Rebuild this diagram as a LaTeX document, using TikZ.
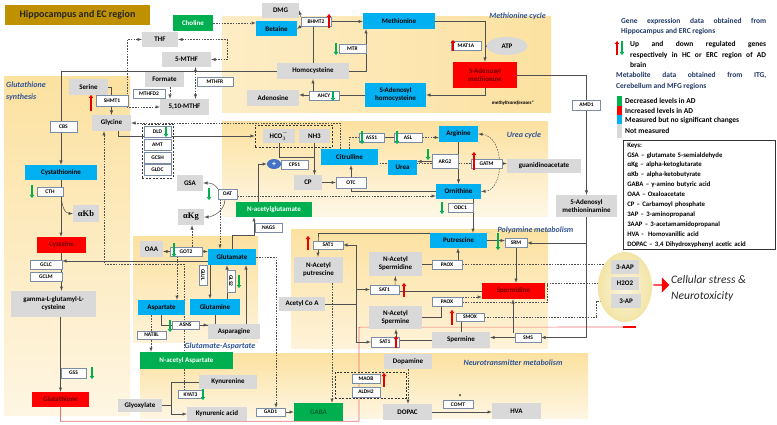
\documentclass[tikz,border=0pt]{standalone}
\usepackage{fontspec}
\setmainfont{Carlito}
\newfontfamily\greekserif{Liberation Serif}
\usetikzlibrary{arrows.meta,backgrounds,shapes.geometric,shapes.arrows}

\definecolor{regcol}{RGB}{252,225,160}
\definecolor{metgrey}{RGB}{217,217,217}
\definecolor{metblue}{RGB}{0,176,240}
\definecolor{metgreen}{RGB}{0,176,80}
\definecolor{metred}{RGB}{255,0,0}
\definecolor{redtext}{RGB}{105,0,0}
\definecolor{labblue}{RGB}{46,84,150}
\definecolor{headblue}{RGB}{32,56,100}
\definecolor{enzborder}{RGB}{125,140,165}
\definecolor{linegrey}{RGB}{80,80,80}
\definecolor{titlegold}{RGB}{191,144,0}
\definecolor{beige}{RGB}{243,228,165}
\definecolor{upred}{RGB}{230,0,0}
\definecolor{downgreen}{RGB}{0,176,80}
\definecolor{inhibred}{RGB}{235,110,110}
\definecolor{plusblue}{RGB}{68,114,196}

\begin{document}
\begin{tikzpicture}[x=1pt,y=-1pt,>=latex]
    \tikzstyle{met} = [rectangle,inner sep=0pt,align=center,font=\fontsize{7}{8}\selectfont\bfseries]
    \tikzstyle{greymet} = [met,fill=metgrey]
    \tikzstyle{bluemet} = [met,fill=metblue]
    \tikzstyle{redmet} = [met,fill=metred,text=redtext]
    \tikzstyle{greenmet} = [met,fill=metgreen,text=white]
    \tikzstyle{enzyme} = [rectangle,draw=enzborder,line width=0.4pt,fill=white,inner sep=0pt,font=\fontsize{5.5}{6}\selectfont\bfseries]
    \tikzstyle{region} = [inner sep=0pt,text=labblue,font=\fontsize{8}{9}\selectfont\bfseries\itshape]
    \tikzstyle{conn} = [draw=linegrey,line width=0.5pt]
    \tikzstyle{dconn} = [conn,dash pattern=on 1.6pt off 1.2pt]
    \tikzstyle{dbox} = [rectangle,draw=black!80,line width=0.6pt,dash pattern=on 2pt off 1.5pt,inner sep=0pt]
    \tikzstyle{upreg} = [draw=upred,line width=1.5pt,-{Triangle[length=3pt,width=4.5pt]}]
    \tikzstyle{downreg} = [draw=downgreen,line width=1.5pt,-{Triangle[length=3pt,width=4.5pt]}]
    \tikzstyle{legend} = [inner sep=0pt,font=\fontsize{7.5}{10.5}\selectfont\bfseries]

    \useasboundingbox (0,0) rectangle (777,425);

    % title, methionine cycle
    \node (title)[met,fill=titlegold,minimum width=145pt,minimum height=20pt,font=\fontsize{10}{11}\selectfont\bfseries,text=black!85] at (77.5,15) {Hippocampus and EC region};
    \node (choline)[greenmet,minimum width=40pt,minimum height=16pt] at (193,23) {Choline};
    \node (dmg)[greymet,minimum width=37pt,minimum height=15pt] at (280.5,10.5) {DMG};
    \node (betaine)[bluemet,minimum width=41pt,minimum height=15pt] at (276.5,29) {Betaine};
    \node (thf)[greymet,minimum width=36pt,minimum height=15pt] at (160,39.5) {THF};
    \node (mthf5)[greymet,minimum width=49pt,minimum height=15pt] at (186.5,59.5) {5-MTHF};
    \node (formate)[greymet,minimum width=39pt,minimum height=15pt] at (164.5,79.5) {Formate};
    \node (mthf510)[greymet,minimum width=49pt,minimum height=16pt] at (184.5,107) {5,10-MTHF};
    \node (methionine)[bluemet,minimum width=72pt,minimum height=16pt] at (399,21) {Methionine};
    \node (homocysteine)[greymet,minimum width=72pt,minimum height=16pt] at (313,71) {Homocysteine};
    \node (adenosine)[greymet,minimum width=52pt,minimum height=16pt] at (273,98) {Adenosine};
    \node (sah)[bluemet,minimum width=61pt,minimum height=24pt] at (395.5,95) {S-Adenosyl\\homocysteine};
    \node (sam)[redmet,minimum width=64pt,minimum height=26pt] at (485,75) {S-Adenosyl\\methionine};
    \node (atp)[met,ellipse,fill=metgrey,minimum width=41pt,minimum height=18pt] at (507,46) {ATP};
    \node (samine)[greymet,minimum width=61pt,minimum height=22pt] at (586.5,206) {5-Adenosyl\\methioninamine};

    % glutathione synthesis
    \node (serine)[greymet,minimum width=39pt,minimum height=16pt] at (88.5,87) {Serine};
    \node (glycine)[greymet,minimum width=39pt,minimum height=16pt] at (111.5,123) {Glycine};
    \node (cystathionine)[bluemet,minimum width=72pt,minimum height=15pt] at (61,172.5) {Cystathionine};
    \node (akb)[greymet,minimum width=26pt,minimum height=17pt,font=\greekserif\bfseries\fontsize{8.5}{9}\selectfont] at (86,213.5) {αKb};
    \node (cysteine)[redmet,minimum width=49pt,minimum height=16pt] at (61.5,245) {Cysteine};
    \node (gglc)[greymet,minimum width=85pt,minimum height=26pt] at (53.5,304) {gamma-L-glutamyl-L-\\cysteine};
    \node (glutathione)[redmet,minimum width=57pt,minimum height=15pt] at (60.5,399.5) {Glutathione};

    % urea cycle
    \node (nbox)[dbox,minimum width=77pt,minimum height=22pt] at (293.5,136) {};
    \node (hco3)[greymet,minimum width=32pt,minimum height=14pt] at (279,136) {HCO$^{-}_{3}$};
    \node (nh3)[greymet,minimum width=31pt,minimum height=14pt] at (314.5,136) {NH3};
    \node (plus)[met,ellipse,fill=plusblue,text=white,minimum width=14pt,minimum height=10pt,font=\fontsize{8}{8}\selectfont\bfseries] at (274,164) {+};
    \node (cp)[greymet,minimum width=28pt,minimum height=15pt] at (308,182.5) {CP};
    \node (citrulline)[bluemet,minimum width=57pt,minimum height=16pt] at (349.5,157) {Citrulline};
    \node (urea)[bluemet,minimum width=29pt,minimum height=15pt] at (402.5,167.5) {Urea};
    \node (arginine)[bluemet,minimum width=39pt,minimum height=16pt] at (458.5,134) {Arginine};
    \node (ornithine)[bluemet,minimum width=45pt,minimum height=15pt] at (458.5,191.5) {Ornithine};
    \node (guanidino)[greymet,minimum width=74pt,minimum height=14pt] at (544,166) {guanidinoacetate};
    \node (gsa)[greymet,minimum width=26pt,minimum height=16pt] at (190,183) {GSA};
    \node (akg)[greymet,minimum width=26pt,minimum height=16pt,font=\greekserif\bfseries\fontsize{8.5}{9}\selectfont] at (191,217) {αKg};
    \node (nacglu)[greenmet,minimum width=76pt,minimum height=15pt] at (274,209.5) {N-acetylglutamate};

    % glutamate-aspartate
    \node (oaa)[greymet,minimum width=23pt,minimum height=16pt] at (151.5,249) {OAA};
    \node (glutamate)[bluemet,minimum width=48pt,minimum height=16pt] at (232,257) {Glutamate};
    \node (aspartate)[bluemet,minimum width=47pt,minimum height=15pt] at (161.5,307.5) {Aspartate};
    \node (glutamine)[bluemet,minimum width=50pt,minimum height=16pt] at (215,307) {Glutamine};
    \node (asparagine)[greymet,minimum width=52pt,minimum height=15pt] at (234,331.5) {Asparagine};
    \node (naa)[greenmet,minimum width=93pt,minimum height=17pt] at (186.5,360.5) {N-acetyl Aspartate};

    % neurotransmitter metabolism
    \node (kynurenine)[greymet,minimum width=58pt,minimum height=14pt] at (228,382) {Kynurenine};
    \node (glyoxylate)[greymet,minimum width=44pt,minimum height=13pt] at (140,405.5) {Glyoxylate};
    \node (kynurenic)[greymet,minimum width=60pt,minimum height=14pt] at (217,414) {Kynurenic acid};
    \node (gaba)[greenmet,minimum width=49pt,minimum height=18pt,text=black!45!metgreen] at (318.5,412) {GABA};
    \node (dopamine)[greymet,minimum width=48pt,minimum height=15pt] at (408,361.5) {Dopamine};
    \node (dopac)[greymet,minimum width=49pt,minimum height=16pt] at (407.5,412) {DOPAC};
    \node (hva)[greymet,minimum width=49pt,minimum height=16pt] at (516.5,411) {HVA};

    % polyamine metabolism
    \node (acetylcoa)[greymet,minimum width=46pt,minimum height=14pt] at (302,304) {Acetyl Co A};
    \node (putrescine)[bluemet,minimum width=57pt,minimum height=15pt] at (458.5,240.5) {Putrescine};
    \node (nacput)[greymet,minimum width=49pt,minimum height=26pt] at (318.5,270) {N-Acetyl\\putrescine};
    \node (nacspd)[greymet,minimum width=53pt,minimum height=24pt] at (395.5,264) {N-Acetyl\\Spermidine};
    \node (spermidine)[redmet,minimum width=63pt,minimum height=16pt] at (513.5,291) {Spermidine};
    \node (nacspm)[greymet,minimum width=53pt,minimum height=23pt] at (395.5,317.5) {N-Acetyl\\Spermine};
    \node (spermine)[greymet,minimum width=58pt,minimum height=16pt] at (461,340) {Spermine};

    % toxic products
    \node (toxell)[ellipse,inner color=beige!35,outer color=beige,minimum width=54pt,minimum height=70pt] at (625,287) {};
    \node (aap3)[greymet,minimum width=28pt,minimum height=14pt] at (625,267) {3-AAP};
    \node (h2o2)[greymet,minimum width=28pt,minimum height=13pt] at (625,283.5) {H2O2};
    \node (ap3)[greymet,minimum width=30pt,minimum height=14pt] at (626,301) {3-AP};
    \node (bigarrow)[single arrow,fill=metred,inner sep=0pt,minimum height=16pt,minimum width=15pt,single arrow head extend=2.5pt] at (661,285) {};
    \node (stress)[anchor=west,align=left,inner sep=0pt,text=black!85,font=\fontsize{11.5}{16}\selectfont\itshape] at (671,288) {Cellular stress \&\\Neurotoxicity};

    % enzymes
    \node (shmt1)[enzyme,minimum width=32pt,minimum height=11pt] at (112,100.5) {SHMT1};
    \node (mthfd2)[enzyme,minimum width=32pt,minimum height=9pt] at (149,94) {MTHFD2};
    \node (mthfr)[enzyme,minimum width=36pt,minimum height=9pt] at (215,81.5) {MTHFR};
    \node (cbs)[enzyme,minimum width=27pt,minimum height=11pt] at (63.5,126.5) {CBS};
    \node (bhmt2)[enzyme,minimum width=30pt,minimum height=9pt] at (316,21.5) {BHMT2};
    \node (mtr)[enzyme,minimum width=27pt,minimum height=9pt] at (352.5,48.5) {MTR};
    \node (ahcy)[enzyme,minimum width=30pt,minimum height=9pt] at (324,95.5) {AHCY};
    \node (mat1a)[enzyme,minimum width=30pt,minimum height=9pt] at (466,45.5) {MAT1A};
    \node (amd1)[enzyme,minimum width=28pt,minimum height=10pt] at (586.5,105) {AMD1};
    \node (gcsbox)[dbox,minimum width=31pt,minimum height=54pt] at (157.5,151) {};
    \node (dld)[enzyme,minimum width=27pt,minimum height=11pt] at (157.5,132) {DLD};
    \node (amt)[enzyme,minimum width=27pt,minimum height=11pt] at (157.5,145) {AMT};
    \node (gcsh)[enzyme,minimum width=27pt,minimum height=11pt] at (157.5,157.5) {GCSH};
    \node (gldc)[enzyme,minimum width=27pt,minimum height=11pt] at (157.5,169.5) {GLDC};
    \node (cps1)[enzyme,minimum width=27pt,minimum height=9pt] at (294.5,164.5) {CPS1};
    \node (otc)[enzyme,minimum width=30pt,minimum height=11pt] at (351,182.5) {OTC};
    \node (ass1)[enzyme,minimum width=25pt,minimum height=9pt] at (371.5,137.5) {ASS1};
    \node (asl)[enzyme,minimum width=28pt,minimum height=9pt] at (408,137.5) {ASL};
    \node (arg2)[enzyme,minimum width=26pt,minimum height=14pt] at (445,161.5) {ARG2};
    \node (gatm)[enzyme,minimum width=31pt,minimum height=9pt] at (486.5,163.5) {GATM};
    \node (odc1)[enzyme,minimum width=25pt,minimum height=9pt] at (460.5,208) {ODC1};
    \node (oat)[enzyme,minimum width=19pt,minimum height=10pt] at (227.5,194) {OAT};
    \node (got2)[enzyme,minimum width=32pt,minimum height=9pt] at (186,251.5) {GOT2};
    \node (nags)[enzyme,minimum width=27pt,minimum height=9pt] at (268.5,227.5) {NAGS};
    \node (cth)[enzyme,minimum width=26pt,minimum height=9pt] at (50,191.5) {CTH};
    \node (gclc)[enzyme,minimum width=32pt,minimum height=9pt] at (46,265) {GCLC};
    \node (gclm)[enzyme,minimum width=32pt,minimum height=9pt] at (46,277) {GCLM};
    \node (gss)[enzyme,minimum width=25pt,minimum height=10pt] at (73.5,373) {GSS};
    \node (glul)[enzyme,rotate=-90,minimum width=20pt,minimum height=8pt] at (203,275) {GLUL};
    \node (gls2)[enzyme,rotate=-90,minimum width=22pt,minimum height=8pt] at (231,281) {GLS2};
    \node (asns)[enzyme,minimum width=27pt,minimum height=8pt] at (185.5,325) {ASNS};
    \node (nat8l)[enzyme,minimum width=29pt,minimum height=8pt] at (151.5,335) {NAT8L};
    \node (kyat3)[enzyme,minimum width=25pt,minimum height=8pt] at (190.5,394.5) {KYAT3};
    \node (gad1)[enzyme,minimum width=29pt,minimum height=8pt] at (270.5,412) {GAD1};
    \node (maobox)[dbox,minimum width=71pt,minimum height=26pt] at (370.5,385) {};
    \node (maob)[enzyme,minimum width=28pt,minimum height=9pt] at (366,378.5) {MAOB};
    \node (aldh2)[enzyme,minimum width=28pt,minimum height=10pt] at (366,392) {ALDH2};
    \node (comt)[enzyme,minimum width=30pt,minimum height=8pt] at (458,404.5) {COMT};
    \node (comtstar)[inner sep=0pt,font=\fontsize{7}{7}\selectfont\bfseries] at (460,397) {*};
    \node (sat1a)[enzyme,minimum width=30pt,minimum height=8pt] at (328,245) {SAT1};
    \node (sat1b)[enzyme,minimum width=29pt,minimum height=9pt] at (384.5,289.5) {SAT1};
    \node (sat1c)[enzyme,minimum width=28pt,minimum height=10pt] at (385,342) {SAT1};
    \node (paox1)[enzyme,minimum width=30pt,minimum height=9pt] at (447,264.5) {PAOX};
    \node (paox2)[enzyme,minimum width=30pt,minimum height=9pt] at (447,301.5) {PAOX};
    \node (smox)[enzyme,minimum width=28pt,minimum height=8pt] at (470,317) {SMOX};
    \node (srm)[enzyme,minimum width=22pt,minimum height=9pt] at (516,243) {SRM};
    \node (sms)[enzyme,minimum width=26pt,minimum height=9pt] at (528,337.5) {SMS};

    % region labels
    \node (metlab)[region] at (517.5,16) {Methionine cycle};
    \node (urealab)[region] at (524,135) {Urea cycle};
    \node (polylab)[region] at (535.5,230) {Polyamine metabolism};
    \node (glulab)[region] at (220,346) {Glutamate-Aspartate};
    \node (neurolab)[region] at (513,363) {Neurotransmitter metabolism};
    \node (gshlab)[region,anchor=west,align=left,font=\fontsize{8}{12}\selectfont\bfseries\itshape] at (6,91) {Glutathione\\synthesis};
    \node (mtlab)[inner sep=0pt,font=\fontsize{5}{6}\selectfont\bfseries\itshape] at (513,103) {methyltransferases*};

    % legend
    \node (head1)[legend,anchor=north west,text width=145pt,align=justify,text=headblue] at (621,18) {Gene expression data obtained from\linebreak Hippocampus and ERC regions};
    \node (updown)[legend,anchor=north west,text width=136pt,align=justify] at (630,41.5) {Up and down regulated genes\linebreak respectively in HC or ERC region of AD\linebreak brain};
    \node (head2)[legend,anchor=north west,text width=150pt,align=justify,text=headblue] at (616,72.5) {Metabolite data obtained from ITG,\linebreak Cerebellum and MFG regions};
    \node (lgdec)[legend,anchor=west] at (625,100.5) {Decreased levels in AD};
    \node (lginc)[legend,anchor=west] at (625,110.5) {Increased levels in AD};
    \node (lgmeas)[legend,anchor=west] at (625,120.5) {Measured but no significant changes};
    \node (lgnot)[legend,anchor=west] at (625,130.5) {Not measured};
    \fill[metgreen] (617,96) rectangle (622,106);
    \fill[metred] (617,106) rectangle (622,115);
    \fill[metblue] (617,115) rectangle (622,124);
    \fill[metgrey] (617,124) rectangle (622,138);
    \node (keys)[draw=black!80,line width=0.5pt,anchor=north west,text width=144pt,inner xsep=4pt,inner ysep=2.5pt,align=left,font=\fontsize{6.8}{9.9}\selectfont\bfseries] at (623,140) {Keys:\\
        GSA – glutamate 5-semialdehyde\\
        αKg – alpha-ketoglutarate\\
        αKb – alpha-ketobutyrate\\
        GABA – γ-amino butyric acid\\
        OAA – Oxaloacetate\\
        CP – Carbamoyl phosphate\\
        3AP – 3-aminopropanal\\
        3AAP – 3-acetamamidopropanal\\
        HVA -\ \ Homovanillic acid\\
        DOPAC – 3,4 Dihydroxyphenyl acetic acid};

    % up and down regulation
    \draw[upreg] (617,55) -- (617,41);
    \draw[downreg] (622,41) -- (622,55);
    \draw[upreg] (91,111) -- (91,95);
    \draw[upreg] (329,28) -- (329,14);
    \draw[downreg] (336,43) -- (336,55);
    \draw[downreg] (333,91) -- (333,101);
    \draw[upreg] (453,51) -- (453,40);
    \draw[downreg] (166,127) -- (166,137);
    \draw[downreg] (32,185) -- (32,198);
    \draw[downreg] (92,367) -- (92,379);
    \draw[downreg] (362,131) -- (362,144);
    \draw[downreg] (397,131) -- (397,144);
    \draw[downreg] (428,149) -- (428,160);
    \draw[upreg] (474,170) -- (474,152);
    \draw[downreg] (442,202) -- (442,214);
    \draw[downreg] (209,188) -- (209,200);
    \draw[downreg] (174,243) -- (174,257);
    \draw[downreg] (239,275) -- (239,288);
    \draw[downreg] (170,320) -- (170,332);
    \draw[downreg] (203,389) -- (203,400);
    \draw[upreg] (308,250) -- (308,236);
    \draw[upreg] (404,297) -- (404,283);
    \draw[upreg] (396,348) -- (396,336);
    \draw[upreg] (452,325) -- (452,310);
    \draw[downreg] (498,233) -- (498,250);
    \draw[upreg] (384,387) -- (384,373);

    \begin{scope}[on background layer]
        % regions
        \fill[top color=regcol,bottom color=regcol!30] (4,77) rectangle (130,415);
        \fill[left color=regcol!60,right color=regcol] (222,17) rectangle (551,113);
        \fill[top color=regcol,bottom color=regcol!25] (222,122) rectangle (548,217);
        \fill[top color=regcol,bottom color=regcol!40] (133,236) rectangle (258,342);
        \fill[top color=regcol,bottom color=regcol!40] (291,229) rectangle (548,348);
        \fill[top color=regcol,bottom color=regcol!30] (140,353) rectangle (588,418);

        % methionine cycle
        \draw[dconn,->] (choline.east) -- (choline.east -| betaine.west);
        \draw[dconn,->] (bhmt2.north west) -- (dmg.east);
        \draw[dconn,->] (bhmt2.south west) -- (betaine.east);
        \draw[conn] (homocysteine.north) -- (homocysteine.north |- bhmt2.south);
        \draw[conn,->] (bhmt2.east) -- (bhmt2.east -| methionine.west);
        \draw[conn,->] (homocysteine.east) -| ([xshift=-33pt]methionine.south);
        \draw[conn,->] (methionine.east) -| (sam.north);
        \draw[conn,->] (atp.west) -- (atp.west -| sam.north);
        \draw[conn,->] (sam.south) |- (sah.east);
        \draw[conn,->] (sah.west) -- (sah.west -| adenosine.east);
        \draw[conn,->] (sah.west -| homocysteine.south) -- (homocysteine.south);
        \draw[conn,->] (sam.east) -| (samine.north);
        \draw[dconn,<->] (thf.east) -- ++(49,0) |- (mthf5.east);
        \draw[dconn,<->] (thf.west) -- ++(-15,0) |- (mthf510.west);
        \draw[dconn,<->] ([xshift=9pt]mthf5.south) -- ([xshift=11pt]mthf510.north);
        \draw[dconn,->] ([xshift=5.5pt]formate.south) -- ([xshift=-14.5pt]mthf510.north);

        % glutathione synthesis
        \draw[conn,->] (homocysteine.west) -| (cystathionine.north);
        \draw[conn,->] (serine.east) -| (glycine.north);
        \draw[conn,->] (cystathionine.south) -- (cystathionine.south |- cysteine.north);
        \draw[conn,->] (cystathionine.south |- cth.east) .. controls +(0,14) and +(-8,0) .. (akb.west);
        \draw[conn,->] (cysteine.south) -- (cysteine.south |- gglc.north);
        \draw[conn,->] (glutathione.north |- gglc.south) -- (glutathione.north);
        \coordinate (redbar) at (623,327);
        \draw[draw=inhibred,line width=0.6pt] (glutathione.south) -- ++(0,14) -| ++(298.5,-94) -- (redbar);
        \draw[draw=metred,line width=2pt] (redbar) -- ++(13,0);

        % glycine and urea cycle
        \draw[dconn,->] (gatm.west) -- ++(-131,0) |- (glycine.east);
        \draw[conn,->] ([xshift=6.5pt]glycine.south) |- (nbox.west);
        \draw[conn] (hco3.south) -- ++(0,14) -| (nh3.south);
        \draw[conn,->] (nh3.south) -- (nh3.south |- cp.north);
        \draw[conn,->] ([xshift=-16pt]nacglu.north) |- (plus.west);
        \draw[conn,->] (cp.east) -- (otc.west);
        \draw[conn,->] (otc.north) -- (otc.north |- citrulline.south);
        \draw[conn] (otc.south) |- (ornithine.west);
        \draw[dconn] (citrulline.north) |- (ass1.west);
        \draw[conn] (ass1.east) -- (asl.west);
        \draw[dconn,->] (asl.east) -- (asl.east -| arginine.west);
        \draw[conn,->] (arginine.south) -- (ornithine.north);
        \draw[conn,->] (arg2.west) -- (arg2.west -| urea.east);
        \draw[dconn,<->] (arginine.east) .. controls (505,136) and (505,190) .. (ornithine.east);
        \draw[conn,->] (gatm.east) -- (gatm.east -| guanidino.west);
        \draw[conn,->] ([xshift=14.5pt]ornithine.south) -- ([xshift=14.5pt]putrescine.north);
        \draw[conn,->] (oat.north west) .. controls +(-4,-6) and +(6,0) .. (gsa.east);
        \draw[conn,->] ([xshift=-2.5pt]oat.south) .. controls +(0,12) and +(8,0) .. (akg.east);
        \draw[dconn,->] ([xshift=-7.5pt]oat.south) -- ([xshift=-12pt]glutamate.north);
        \draw[dconn,->] ([yshift=-2pt]oat.east) -- ([yshift=-2pt]oat.east -| ornithine.west);

        % glutamate-aspartate
        \draw[dconn,->] ([xshift=6pt]got2.north) -- ([xshift=1pt]akg.south);
        \draw[conn,->] (got2.west) -- (got2.west -| oaa.east);
        \draw[conn,->] (got2.east) -- (got2.east -| glutamate.west);
        \draw[conn,->] ([yshift=-4pt]glutamate.west) -- ([yshift=-4pt]glutamate.west -| gclc.east);
        \draw[dconn,->] ([xshift=-6.5pt]kyat3.north) -- ++(0,-126.5) -| ([xshift=-7.5pt]glycine.south);
        \draw[dconn,->] ([xshift=-9pt]got2.south) -- ([xshift=15.5pt]aspartate.north);
        \draw[dconn,->] (glutamate.east) -| ([xshift=5.5pt]gad1.north);
        \draw[conn,->] (gad1.east) -- (gad1.east -| gaba.west);
        \draw[conn,->] (glutamate.north) -- ++(0,-14) -| ([xshift=-20pt]nacglu.south);
        \draw[conn,->] ([xshift=-22pt]glutamate.south) -- ([xshift=-5pt]glutamine.north);
        \draw[conn,->] ([xshift=12pt]glutamine.north) -- ([xshift=-5pt]glutamate.south);
        \draw[conn,->] ([xshift=12pt]asparagine.north) -- ([xshift=14pt]glutamate.south);
        \draw[conn] (aspartate.south) |- (asns.west);
        \draw[conn] (glutamine.south) |- (asns.east);
        \draw[conn,->] (asns.east) -- (asns.east -| asparagine.west);
        \draw[dconn,->] ([xshift=-10.5pt]aspartate.south) -- ([xshift=-35.5pt]naa.north);

        % neurotransmitter metabolism
        \coordinate (kjoin) at (171,405.5);
        \draw[conn,->] (kynurenine.west) -- ++(-28,0) |- (kynurenic.west);
        \draw[conn] (glyoxylate.east) -- (kjoin);
        \draw[dconn,->] ([xshift=13.5pt]nacput.south) -- ([xshift=13.5pt]gaba.north);
        \draw[dconn,->] (dopamine.south) -- (dopamine.south |- dopac.north);
        \draw[conn,->] (dopac.east) -- (dopac.east -| hva.west);

        % polyamine metabolism
        \draw[conn,->] (putrescine.north west) -| ([xshift=-10pt]sat1a.north) -- ([xshift=-0.5pt]nacput.north);
        \coordinate (acbus) at (356,304);
        \draw[conn] (acetylcoa.east) -- (acbus);
        \draw[conn,->] (acbus) |- (sat1a.east);
        \draw[conn,->] (acbus) |- (sat1b.west);
        \draw[conn,->] (acbus) |- (sat1c.west);
        \draw[conn,->] ([xshift=10.5pt]sat1b.north) -- (nacspd.south);
        \draw[conn] (spermidine.west) -- (spermidine.west -| sat1b.east);
        \draw[conn] (nacspd.east) -- (nacspd.east -| paox1.west);
        \draw[conn,->] ([xshift=11pt]paox1.north) -- ([xshift=-0.5pt]putrescine.south);
        \draw[conn,->] (putrescine.east) -- (putrescine.east -| srm.west);
        \draw[conn,->] (samine.south) |- (srm.east);
        \draw[conn,->] (samine.south) |- (sms.east);
        \draw[conn,->] (srm.south) -- (srm.south |- spermidine.north);
        \draw[conn,->] ([xshift=-15pt]sms.north) -- ([xshift=-0.5pt]spermidine.south);
        \draw[conn,->] (sms.west) -- (sms.west -| spermine.east);
        \draw[conn] (spermine.west) -- (spermine.west -| sat1c.east);
        \draw[conn,->] ([xshift=11pt]sat1c.north) -- ([xshift=0.5pt]nacspm.south);
        \draw[conn] (nacspm.east) -| ([xshift=-6pt]paox2.south);
        \draw[dconn,->] ([yshift=4.5pt]paox2.east) -- ([yshift=4.5pt]paox2.east -| spermidine.west);
        \draw[conn] (spermine.north) -- (spermine.north |- smox.south);
        \draw[dconn,->] (paox1.east) -- (paox1.east -| aap3.west);
        \draw[dconn,->] ([yshift=-1pt]paox2.east) -- ++(85,0) |- (h2o2.west);
        \draw[dconn,->] (smox.east) -- ++(112,0) |- (ap3.west);
    \end{scope}
\end{tikzpicture}
\end{document}
